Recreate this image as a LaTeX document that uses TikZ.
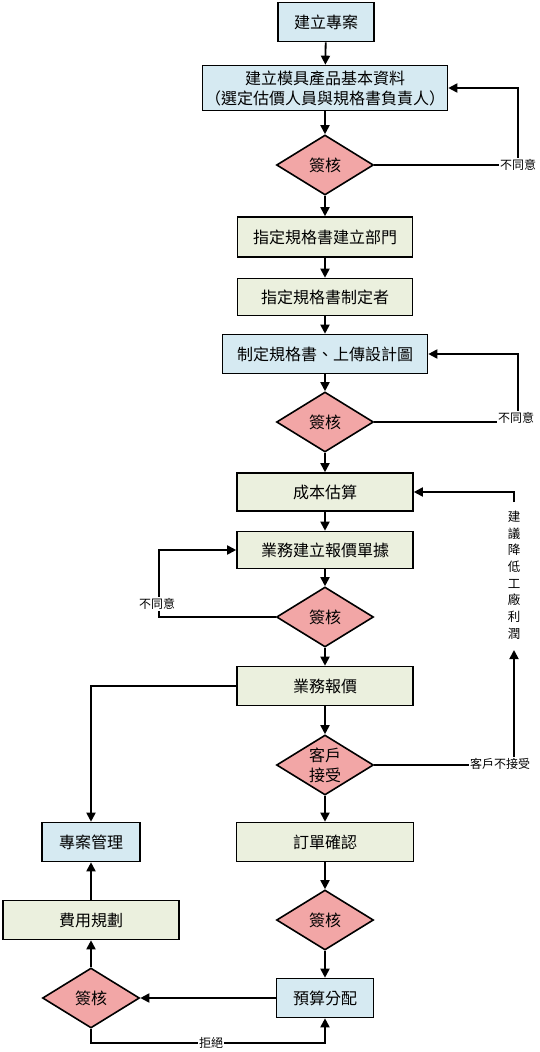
\documentclass[tikz,border=0pt]{standalone}
\usepackage{fontspec}
\setmainfont{Noto Sans CJK TC}
\usetikzlibrary{shapes.geometric,arrows.meta}
\definecolor{bluef}{RGB}{214,234,242}
\definecolor{greenf}{RGB}{235,240,222}
\definecolor{pinkf}{RGB}{242,166,166}
\begin{document}
\begin{tikzpicture}[x=1pt,y=-1pt,
 base/.style={draw=black, line width=1.6pt, font=\fontsize{16}{20}\selectfont, inner sep=0pt, align=center},
 bbox/.style={base, fill=bluef},
 gbox/.style={base, fill=greenf},
 dia/.style={base, diamond, fill=pinkf, aspect=1.6, minimum width=97pt, minimum height=60pt},
 lbl/.style={font=\fontsize{12}{14}\selectfont, fill=white, inner sep=1pt},
 arr/.style={line width=1.8pt, -{Triangle[length=9pt,width=9pt]}},
 ln/.style={line width=1.8pt}]
\useasboundingbox (0,0) rectangle (540,1052);

\node[bbox, minimum width=96, minimum height=39] (n1) at (326,22) {建立專案};
\node[bbox, minimum width=245, minimum height=45] (n2) at (325,88) {建立模具產品基本資料\\（選定估價人員與規格書負責人）};
\node[dia] (d1) at (325,165) {簽核};
\node[gbox, minimum width=175, minimum height=40] (n3) at (325,237) {指定規格書建立部門};
\node[gbox, minimum width=175, minimum height=37] (n4) at (325,297) {指定規格書制定者};
\node[bbox, minimum width=205, minimum height=39] (n5) at (325,354) {制定規格書、上傳設計圖};
\node[dia] (d2) at (325,422) {簽核};
\node[gbox, minimum width=176, minimum height=38] (n6) at (325,492) {成本估算};
\node[gbox, minimum width=176, minimum height=37] (n7) at (325,550) {業務建立報價單據};
\node[dia] (d3) at (325,617) {簽核};
\node[gbox, minimum width=176, minimum height=39] (n8) at (325,686) {業務報價};
\node[dia] (d4) at (325,765) {客戶\\接受};
\node[gbox, minimum width=177, minimum height=39] (n9) at (325,842) {訂單確認};
\node[dia] (d5) at (325,920) {簽核};
\node[bbox, minimum width=97, minimum height=39] (n10) at (325,998) {預算分配};
\node[bbox, minimum width=98, minimum height=39] (n11) at (91,842) {專案管理};
\node[gbox, minimum width=176, minimum height=39] (n12) at (91,920) {費用規劃};
\node[dia] (d6) at (91,998) {簽核};

% main vertical flow
\draw[arr] (n1) -- (n2);
\draw[arr] (n2) -- (d1);
\draw[arr] (d1) -- (n3);
\draw[arr] (n3) -- (n4);
\draw[arr] (n4) -- (n5);
\draw[arr] (n5) -- (d2);
\draw[arr] (d2) -- (n6);
\draw[arr] (n6) -- (n7);
\draw[arr] (n7) -- (d3);
\draw[arr] (d3) -- (n8);
\draw[arr] (n8) -- (d4);
\draw[arr] (d4) -- (n9);
\draw[arr] (n9) -- (d5);
\draw[arr] (d5) -- (n10);

% loops right
\coordinate (c1) at (518,165);
\draw[arr] (d1.east) -- (c1) |- (n2.east);
\node[lbl] (l1) at (c1) {不同意};
\coordinate (c2) at (518,422);
\draw[arr] (d2.east) -- (c2) |- (n5.east);
\node[lbl] (l2) at (516,418) {不同意};

% loop left
\coordinate (c3) at (159,617);
\coordinate (c3b) at (159,550);
\draw[arr] (d3.west) -- (c3) -- (c3b) -- (n7.west);
\node[lbl] (l3) at (157,604) {不同意};

% customer rejection
\coordinate (c4) at (514,765);
\coordinate (c5) at (514,650);
\coordinate (c6) at (514,502);
\draw[arr] (d4.east) -- (c4) -- (c5);
\node[lbl] (l4) at (500,764) {客戶不接受};
\node[font=\fontsize{12.5}{16.7}\selectfont, align=center, inner sep=0pt] (vt) at (514,575) {建\\議\\降\\低\\工\\廠\\利\\潤};
\draw[arr] (c6) |- (n6.east);

% left branch
\draw[arr] (n8.west) -| (n11.north);
\draw[arr] (n12) -- (n11);
\draw[arr] (d6) -- (n12);
\draw[arr] (n10.west) -- (d6.east);
\coordinate (c7) at (91,1043);
\coordinate (c8) at (325,1043);
\draw[arr] (d6.south) -- (c7) -- (c8) -- (n10.south);
\node[lbl] (l5) at (211,1043) {拒絕};
\end{tikzpicture}
\end{document}
